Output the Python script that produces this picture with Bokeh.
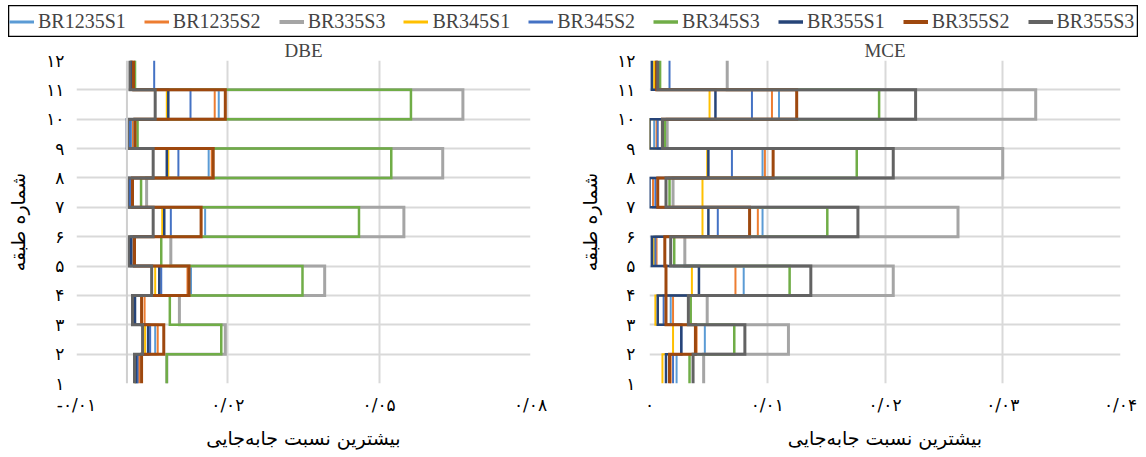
import numpy as np
from bokeh.plotting import figure
from bokeh.models import FixedTicker, Span, Legend, LegendItem
from bokeh.layouts import column, row
from bokeh.embed import file_html
from bokeh.resources import INLINE

# ---------------- data ----------------
series = ["BR1235S1", "BR1235S2", "BR335S3", "BR345S1", "BR345S2",
          "BR345S3", "BR355S1", "BR355S2", "BR355S3"]
stories = [1, 2, 3, 4, 5, 6, 7, 8, 9, 10, 11]          # story i spans level i .. i+1
levels = [1, 2, 3, 4, 5, 6, 7, 8, 9, 10, 11, 12]
level_labels = ["۱", "۲", "۳", "۴", "۵", "۶", "۷", "۸", "۹", "۱۰", "۱۱", "۱۲"]

dbe_ticks = [-0.01, 0.02, 0.05, 0.08]
dbe_tick_labels = ["-۰/۰۱", "۰/۰۲", "۰/۰۵", "۰/۰۸"]
mce_ticks = [0.0, 0.01, 0.02, 0.03, 0.04]
mce_tick_labels = ["۰", "۰/۰۱", "۰/۰۲", "۰/۰۳", "۰/۰۴"]

dbe_BR1235S1 = [0.0020, 0.0056, 0.0012, 0.0127, 0.0010, 0.0155, 0.0006, 0.0162, 0.0008, 0.0182, 0.0010]
dbe_BR1235S2 = [0.0024, 0.0061, 0.0035, 0.0120, 0.0013, 0.0147, 0.0008, 0.0168, 0.0012, 0.0174, 0.0010]
dbe_BR335S3 = [0.0079, 0.0195, 0.0104, 0.0392, 0.0087, 0.0549, 0.0039, 0.0626, 0.0015, 0.0666, 0.0015]
dbe_BR345S1 = [0.0016, 0.0036, 0.0012, 0.0056, 0.0005, 0.0070, 0.0005, 0.0082, 0.0005, 0.0079, 0.0008]
dbe_BR345S2 = [0.0021, 0.0046, 0.0014, 0.0068, 0.0006, 0.0087, 0.0006, 0.0102, 0.0006, 0.0126, 0.0054]
dbe_BR345S3 = [0.0079, 0.0187, 0.0085, 0.0348, 0.0068, 0.0460, 0.0028, 0.0524, 0.0021, 0.0563, 0.0016]
dbe_BR355S1 = [0.0018, 0.0042, 0.0016, 0.0064, 0.0008, 0.0074, 0.0002, 0.0079, 0.0000, 0.0082, 0.0008]
dbe_BR355S2 = [0.0029, 0.0073, 0.0029, 0.0123, 0.0015, 0.0147, 0.0011, 0.0171, 0.0016, 0.0195, 0.0013]
dbe_BR355S3 = [0.0015, 0.0031, 0.0011, 0.0049, 0.0003, 0.0052, 0.0001, 0.0052, 0.0001, 0.0056, 0.0006]

mce_BR1235S1 = [0.0023, 0.0047, 0.0018, 0.0080, 0.0004, 0.0096, 0.0003, 0.0096, 0.0004, 0.0110, 0.0005]
mce_BR1235S2 = [0.0018, 0.0040, 0.0020, 0.0073, 0.0006, 0.0092, 0.0003, 0.0098, 0.0006, 0.0104, 0.0006]
mce_BR335S3 = [0.0046, 0.0118, 0.0049, 0.0207, 0.0030, 0.0262, 0.0020, 0.0300, 0.0015, 0.0328, 0.0066]
mce_BR345S1 = [0.0011, 0.0020, 0.0005, 0.0036, 0.0004, 0.0045, 0.0045, 0.0049, 0.0000, 0.0051, 0.0004]
mce_BR345S2 = [0.0020, 0.0027, 0.0012, 0.0042, 0.0005, 0.0058, 0.0005, 0.0070, 0.0007, 0.0087, 0.0017]
mce_BR345S3 = [0.0034, 0.0072, 0.0035, 0.0119, 0.0021, 0.0151, 0.0017, 0.0176, 0.0013, 0.0195, 0.0009]
mce_BR355S1 = [0.0014, 0.0027, 0.0007, 0.0042, 0.0002, 0.0050, 0.0000, 0.0050, 0.0000, 0.0056, 0.0002]
mce_BR355S2 = [0.0017, 0.0039, 0.0014, 0.0014, 0.0013, 0.0085, 0.0007, 0.0105, 0.0011, 0.0125, 0.0006]
mce_BR355S3 = [0.0037, 0.0081, 0.0033, 0.0137, 0.0018, 0.0177, 0.0014, 0.0207, 0.0011, 0.0226, 0.0007]

dbe_data = [dbe_BR1235S1, dbe_BR1235S2, dbe_BR335S3, dbe_BR345S1, dbe_BR345S2,
            dbe_BR345S3, dbe_BR355S1, dbe_BR355S2, dbe_BR355S3]
mce_data = [mce_BR1235S1, mce_BR1235S2, mce_BR335S3, mce_BR345S1, mce_BR345S2,
            mce_BR345S3, mce_BR355S1, mce_BR355S2, mce_BR355S3]

# ---------------- styles ----------------
colors = ["#5B9BD5", "#ED7D31", "#A5A5A5", "#FFC000", "#4472C4",
          "#70AD47", "#264478", "#9E480E", "#636363"]
widths = [2, 2, 3, 2, 2, 2.5, 2.5, 3, 3]

LATIN = "Liberation Serif"
PERSIAN = "DejaVu Sans"
GRID = "#D9D9D9"


def step_path(vals):
    xs = np.repeat(np.asarray(vals, dtype=float), 2)
    ys = np.array([[s, s + 1] for s in stories], dtype=float).ravel()
    return xs, ys


def make_panel(title, data, x_range, ticks, tick_labels, width, mb_left, mb_right,
               ylab_standoff, ytick_standoff):
    p = figure(width=width, height=419, x_range=x_range, y_range=(1, 12),
               toolbar_location=None, output_backend="svg",
               min_border_left=mb_left, min_border_right=mb_right,
               min_border_top=23, min_border_bottom=73)
    p.outline_line_color = None
    p.title.text = title
    p.title.align = "center"
    p.title.text_font = LATIN
    p.title.text_font_size = "19px"
    p.title.text_font_style = "normal"
    p.title.standoff = 0

    p.xaxis.ticker = FixedTicker(ticks=ticks)
    p.xaxis.major_label_overrides = {t: l for t, l in zip(ticks, tick_labels)}
    p.yaxis.ticker = FixedTicker(ticks=levels)
    p.yaxis.major_label_overrides = {t: l for t, l in zip(levels, level_labels)}
    for ax in (p.xaxis[0], p.yaxis[0]):
        ax.axis_line_color = None
        ax.major_tick_line_color = None
        ax.minor_tick_line_color = None
        ax.major_label_text_font = PERSIAN
        ax.major_label_text_font_size = "17px"
        ax.major_label_text_color = "black"
        ax.axis_label_text_font = PERSIAN
        ax.axis_label_text_font_size = "19px"
        ax.axis_label_text_font_style = "normal"
        ax.axis_label_text_color = "black"
    p.xaxis.axis_label = "بیشترین نسبت جابه‌جایی"
    p.yaxis.axis_label = "شماره طبقه"
    p.xaxis.major_label_standoff = 5
    p.xaxis.axis_label_standoff = 9
    p.yaxis.major_label_standoff = ytick_standoff
    p.yaxis.axis_label_standoff = ylab_standoff

    p.xgrid.grid_line_color = GRID
    p.ygrid.grid_line_color = GRID
    p.xgrid.grid_line_width = 2
    p.ygrid.grid_line_width = 2
    if x_range[0] < 0:
        p.add_layout(Span(location=0, dimension="height", line_color="#CFCFCF", line_width=2))

    for vals, c, w in zip(data, colors, widths):
        xs, ys = step_path(vals)
        p.line(xs, ys, line_color=c, line_width=w, line_join="miter")
    return p


p_dbe = make_panel("DBE", dbe_data, (-0.01, 0.08), dbe_ticks, dbe_tick_labels,
                   575, 76, 45, 14, 6)
p_mce = make_panel("MCE", mce_data, (0.0, 0.04), mce_ticks, mce_tick_labels,
                   570, 74, 25, 13, 8)

# ---------------- legend strip ----------------
leg = figure(width=1130, height=32, toolbar_location=None, output_backend="svg",
             x_axis_type=None, y_axis_type=None, min_border=0,
             x_range=(0, 1), y_range=(0, 1), margin=(5, 0, 0, 8))
leg.xgrid.visible = False
leg.ygrid.visible = False
leg.outline_line_color = "black"
leg.outline_line_width = 1.5
items = []
for name, c, w in zip(series, colors, widths):
    # off-screen placeholder so that the legend shows each series' line
    r = leg.line(x=[-5.0, -4.0], y=[-5.0, -5.0], line_color=c, line_width=w + 1)
    items.append(LegendItem(label=name, renderers=[r]))
legend = Legend(items=items, orientation="horizontal", location="center_left",
                label_text_font=LATIN, label_text_font_size="20px",
                glyph_width=25, glyph_height=16, label_standoff=4, spacing=18,
                padding=5, margin=1, border_line_color=None,
                background_fill_alpha=0)
leg.add_layout(legend, "center")

layout = column(leg, row(p_dbe, p_mce))
open("out.html", "w").write(file_html(layout, INLINE))
